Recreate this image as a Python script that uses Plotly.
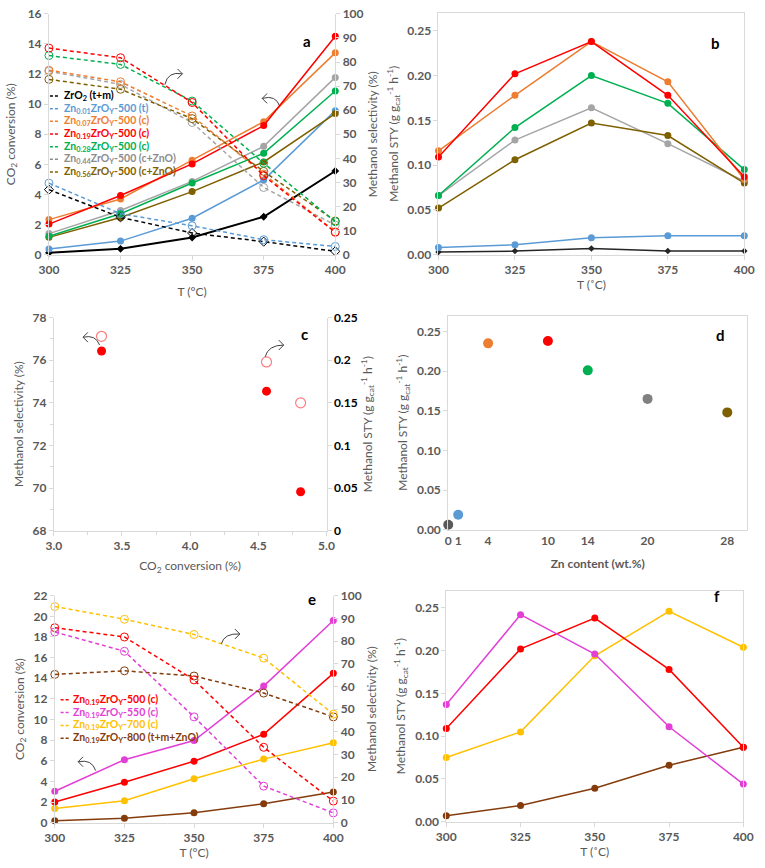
import plotly.graph_objects as go

W, H = 765, 868

# ---------------- data ----------------
T = [300, 325, 350, 375, 400]

# panel a: CO2 conversion (%)
conv_zro2 = [0.12, 0.39, 1.14, 2.52, 5.56]
conv_zn001 = [0.38, 0.90, 2.42, 4.96, 9.57]
conv_zn007 = [2.33, 3.70, 6.28, 8.84, 13.41]
conv_zn019 = [2.03, 3.93, 6.03, 8.58, 14.52]
conv_zn028 = [1.22, 2.72, 4.76, 6.74, 10.88]
conv_zn044 = [1.40, 2.94, 4.87, 7.20, 11.78]
conv_zn056 = [1.15, 2.47, 4.19, 6.16, 9.38]
# panel a: methanol selectivity (%)
sel_zro2 = [27.0, 15.5, 9.0, 5.4, 1.4]
sel_zn001 = [29.7, 17.0, 12.0, 6.2, 3.4]
sel_zn007 = [76.6, 71.8, 57.6, 33.5, 9.5]
sel_zn019 = [85.8, 81.8, 63.2, 32.8, 9.3]
sel_zn028 = [82.7, 79.0, 63.8, 38.0, 13.7]
sel_zn044 = [76.2, 70.7, 54.9, 27.9, 12.3]
sel_zn056 = [72.8, 68.7, 56.5, 34.6, 14.0]

# panel b: methanol STY
sty_zro2 = [0.003, 0.004, 0.007, 0.004, 0.004]
sty_zn001 = [0.008, 0.011, 0.019, 0.021, 0.021]
sty_zn007 = [0.116, 0.178, 0.238, 0.193, 0.084]
sty_zn019 = [0.109, 0.202, 0.238, 0.178, 0.087]
sty_zn028 = [0.066, 0.142, 0.200, 0.169, 0.095]
sty_zn044 = [0.066, 0.128, 0.164, 0.124, 0.082]
sty_zn056 = [0.052, 0.106, 0.147, 0.133, 0.080]

# panel c
c_conv = [3.35, 4.56, 4.81]
c_sel = [76.43, 74.55, 69.83]
c_sty = [0.228, 0.198, 0.150]

# panel d
zn_content = [0, 1, 4, 10, 14, 20, 28]
d_sty = [0.0065, 0.019, 0.235, 0.238, 0.201, 0.165, 0.148]
d_ticks = [0, 1, 4, 10, 14, 20, 28]
d_ticktext = ["0", "1", "4", "10", "14", "20", "28"]

# panel e
conv_500 = [2.00, 3.92, 5.96, 8.57, 14.47]
conv_550 = [3.05, 6.10, 7.96, 13.24, 19.60]
conv_700 = [1.38, 2.12, 4.25, 6.16, 7.74]
conv_800 = [0.18, 0.43, 0.96, 1.83, 2.97]
sel_500 = [85.9, 81.8, 62.9, 33.2, 9.5]
sel_550 = [84.0, 75.5, 46.6, 16.1, 4.3]
sel_700 = [95.2, 89.6, 82.9, 72.5, 47.8]
sel_800 = [65.3, 66.9, 64.6, 57.1, 46.6]

# panel f
sty_500 = [0.109, 0.202, 0.238, 0.178, 0.087]
sty_550 = [0.137, 0.242, 0.196, 0.111, 0.044]
sty_700 = [0.075, 0.105, 0.194, 0.246, 0.204]
sty_800 = [0.007, 0.019, 0.039, 0.066, 0.087]

# ---------------- style ----------------
C_BLACK = '#000000'
C_BLUE = '#5B9BD5'
C_ORANGE = '#ED7D31'
C_RED = '#FF0000'
C_GREEN = '#00B050'
C_GREY = '#A5A5A5'
C_OLIVE = '#7F6000'
C_MAG = '#E23FD6'
C_YEL = '#FFC000'
C_BROWN = '#843C0C'
d_colors = ['#595959', C_BLUE, C_ORANGE, C_RED, C_GREEN, '#808080', C_OLIVE]

FONT = 'Lato'
LEG_FONT = 'Liberation Sans Narrow, Lato'
TXT = '#595959'
AX = '#D9D9D9'
DASH = '4px,3px'


def px(x):
    return x / W


def py(y):
    return 1 - y / H


fig = go.Figure()


def solid(x, y, col, xa, ya, sym='circle', size=7, lw=1.5):
    fig.add_trace(go.Scatter(x=x, y=y, xaxis=xa, yaxis=ya, mode='lines+markers',
                             line=dict(color=col, width=lw),
                             marker=dict(symbol=sym, size=size, color=col),
                             cliponaxis=False, showlegend=False))


def dashed(x, y, col, xa, ya, sym='circle-open', size=8):
    fig.add_trace(go.Scatter(x=x, y=y, xaxis=xa, yaxis=ya, mode='lines+markers',
                             line=dict(color=col, width=1.5, dash=DASH),
                             marker=dict(symbol=sym, size=size, color=col, line=dict(width=1, color=col)),
                             cliponaxis=False, showlegend=False))


# panel a
a_series = [
    (conv_zro2, sel_zro2, C_BLACK, 'diamond', 'diamond-open', 6),
    (conv_zn001, sel_zn001, C_BLUE, 'circle', 'circle-open', 7),
    (conv_zn044, sel_zn044, C_GREY, 'circle', 'circle-open', 7),
    (conv_zn056, sel_zn056, C_OLIVE, 'circle', 'circle-open', 7),
    (conv_zn028, sel_zn028, C_GREEN, 'circle', 'circle-open', 7),
    (conv_zn007, sel_zn007, C_ORANGE, 'circle', 'circle-open', 7),
    (conv_zn019, sel_zn019, C_RED, 'circle', 'circle-open', 7),
]
for cv, sl, col, s1, s2, sz in a_series:
    solid(T, cv, col, 'x', 'y', sym=s1, size=sz, lw=2 if col == C_BLACK else 1.5)
for cv, sl, col, s1, s2, sz in a_series:
    dashed(T, sl, col, 'x', 'y2', sym=s2, size=sz + 1)

# panel b
b_series = [(sty_zro2, '#262626', 'diamond', 5), (sty_zn001, C_BLUE, 'circle', 7),
            (sty_zn044, C_GREY, 'circle', 7), (sty_zn056, C_OLIVE, 'circle', 7),
            (sty_zn028, C_GREEN, 'circle', 7), (sty_zn007, C_ORANGE, 'circle', 7),
            (sty_zn019, C_RED, 'circle', 7)]
for yv, col, sym, sz in b_series:
    solid(T, yv, col, 'x2', 'y3', sym=sym, size=sz)

# panel c
fig.add_trace(go.Scatter(x=c_conv, y=c_sel, xaxis='x3', yaxis='y4', mode='markers',
                         marker=dict(symbol='circle', size=9, color=C_RED),
                         cliponaxis=False, showlegend=False))
fig.add_trace(go.Scatter(x=c_conv, y=c_sty, xaxis='x3', yaxis='y5', mode='markers',
                         marker=dict(symbol='circle-open', size=10, color='#FF7C80', line=dict(width=1.2)),
                         cliponaxis=False, showlegend=False))

# panel d
fig.add_trace(go.Scatter(x=zn_content, y=d_sty, xaxis='x4', yaxis='y6', mode='markers',
                         marker=dict(symbol='circle', size=10, color=d_colors),
                         cliponaxis=False, showlegend=False))

# panel e
e_series = [(conv_800, sel_800, C_BROWN), (conv_700, sel_700, C_YEL),
            (conv_500, sel_500, C_RED), (conv_550, sel_550, C_MAG)]
for cv, sl, col in e_series:
    solid(T, cv, col, 'x5', 'y7')
for cv, sl, col in e_series:
    dashed(T, sl, col, 'x5', 'y8')

# panel f
for yv, col in [(sty_800, C_BROWN), (sty_700, C_YEL), (sty_500, C_RED), (sty_550, C_MAG)]:
    solid(T, yv, col, 'x6', 'y9')

# ---------------- axes ----------------
tickfont = dict(family=FONT, size=12, color=TXT, weight='bold')
titlefont = dict(family=FONT, size=12, color=TXT)


def xax(dom, anchor, rng, title, standoff=4, **kw):
    d = dict(domain=[px(dom[0]), px(dom[1])], anchor=anchor, range=rng,
             showgrid=False, zeroline=False, showline=True, linecolor=AX, linewidth=1,
             ticks='outside', ticklen=4, tickcolor=AX, tickfont=tickfont,
             title=dict(text=title, font=titlefont, standoff=standoff))
    d.update(kw)
    return d


def yax(dom, anchor, rng, title, standoff=6, **kw):
    d = dict(domain=[py(dom[1]), py(dom[0])], anchor=anchor, range=rng,
             showgrid=False, zeroline=False, showline=True, linecolor=AX, linewidth=1,
             ticks='outside', ticklen=4, tickcolor=AX, tickfont=tickfont,
             title=dict(text=title, font=titlefont, standoff=standoff))
    d.update(kw)
    return d


STY_TITLE = 'Methanol STY (g g<sub>cat</sub><sup>-1</sup> h<sup>-1</sup>)'
CONV_TITLE = 'CO<sub>2</sub> conversion (%)'
SEL_TITLE = 'Methanol selectivity (%)'
Tx = [300, 325, 350, 375, 400]

ax = {}
# a
ax['xaxis'] = xax([40, 334], 'y', [300, 400], 'T (°C)', standoff=11, tickvals=Tx)
ax['yaxis'] = yax([6, 251], 'x', [0, 16], CONV_TITLE, standoff=9, dtick=2)
ax['yaxis2'] = yax([6, 251], 'x', [0, 100], SEL_TITLE, dtick=10, overlaying='y', side='right')
# b
ax['xaxis2'] = xax([440, 754], 'y3', [300, 400], 'T (˚C)', tickvals=Tx, mirror=True)
ax['yaxis3'] = yax([5, 251], 'x2', [0, 0.27], STY_TITLE, tickvals=[0, 0.05, 0.1, 0.15, 0.2, 0.25],
                   tickformat='.2f', mirror=True)
# c
ax['xaxis3'] = xax([45, 325], 'y4', [3.0, 5.0], CONV_TITLE, standoff=9, dtick=0.5, tickformat='.1f',
                   minor=dict(ticks='outside', ticklen=3, tickcolor=AX, dtick=0.25))
ax['yaxis4'] = yax([315, 532], 'x3', [68, 78], SEL_TITLE, dtick=2,
                   minor=dict(ticks='outside', ticklen=3, tickcolor=AX, dtick=1))
ax['yaxis5'] = yax([315, 532], 'x3', [0, 0.25], STY_TITLE, dtick=0.05, overlaying='y4', side='right',
                   tickfont=dict(family=FONT, size=12, color='#000000', weight='bold'))
# d
ax['xaxis4'] = xax([450, 757], 'y6', [0, 30], '<b>Zn content (wt.%)</b>', standoff=12, tickvals=d_ticks,
                   ticktext=d_ticktext, mirror=True, ticks='')
ax['yaxis6'] = yax([313, 531], 'x4', [0, 0.27], STY_TITLE, tickvals=[0, 0.05, 0.1, 0.15, 0.2, 0.25],
                   tickformat='.2f', mirror=True)
# e
ax['xaxis5'] = xax([46, 332], 'y7', [300, 400], 'T (°C)', tickvals=Tx)
ax['yaxis7'] = yax([598, 829], 'x5', [0, 22], CONV_TITLE, dtick=2)
ax['yaxis8'] = yax([598, 829], 'x5', [0, 100], SEL_TITLE, dtick=10, overlaying='y7', side='right')
# f
ax['xaxis6'] = xax([448, 753], 'y9', [300, 400], 'T (˚C)', tickvals=Tx, mirror=True)
ax['yaxis9'] = yax([593, 828], 'x6', [0, 0.27], STY_TITLE, tickvals=[0, 0.05, 0.1, 0.15, 0.2, 0.25],
                   tickformat='.2f', mirror=True)

# ---------------- annotations / legends ----------------
annotations = []
shapes = []

for lab, (x, y) in {'a': (305, 22), 'b': (731, 24), 'c': (302, 332), 'd': (736, 333),
                    'e': (310, 613), 'f': (731, 610)}.items():
    annotations.append(dict(text='<b>%s</b>' % lab, x=px(x), y=py(y), xref='paper', yref='paper',
                            showarrow=False, font=dict(family=FONT, size=15, color='#000000')))

legend_a = [
    ('ZrO<sub>2</sub> (t+m)', C_BLACK),
    ('Zn<sub>0.01</sub>ZrO<sub>Y</sub>-500 (t)', C_BLUE),
    ('Zn<sub>0.07</sub>ZrO<sub>Y</sub>-500 (c)', C_ORANGE),
    ('Zn<sub>0.19</sub>ZrO<sub>Y</sub>-500 (c)', C_RED),
    ('Zn<sub>0.28</sub>ZrO<sub>Y</sub>-500 (c)', C_GREEN),
    ('Zn<sub>0.44</sub>ZrO<sub>Y</sub>-500 (c+ZnO)', '#8C8C8C'),
    ('Zn<sub>0.56</sub>ZrO<sub>Y</sub>-500 (c+ZnO)', C_OLIVE),
]
legend_e = [
    ('Zn<sub>0.19</sub>ZrO<sub>Y</sub>-500 (c)', C_RED),
    ('Zn<sub>0.19</sub>ZrO<sub>Y</sub>-550 (c)', C_MAG),
    ('Zn<sub>0.19</sub>ZrO<sub>Y</sub>-700 (c)', C_YEL),
    ('Zn<sub>0.19</sub>ZrO<sub>Y</sub>-800 (t+m+ZnO)', C_BROWN),
]


def add_legend(items, x0, x1, xt, y0, dy):
    for i, (txt, col) in enumerate(items):
        y = y0 + i * dy
        shapes.append(dict(type='line', xref='paper', yref='paper', x0=px(x0), x1=px(x1),
                           y0=py(y), y1=py(y), line=dict(color=col, width=1.5, dash='3px,2px')))
        annotations.append(dict(text='<b>%s</b>' % txt, x=px(xt), y=py(y), xref='paper', yref='paper',
                                xanchor='left', yanchor='middle', showarrow=False,
                                font=dict(family=LEG_FONT, size=10.5, color=col)))


add_legend(legend_a, 41, 51, 53, 89.5, 12.9)
add_legend(legend_e, 52, 61, 63, 704, 13)


def arrow(p0, c, p1, head):
    path = 'M %f,%f Q %f,%f %f,%f' % (px(p0[0]), py(p0[1]), px(c[0]), py(c[1]), px(p1[0]), py(p1[1]))
    shapes.append(dict(type='path', path=path, xref='paper', yref='paper',
                       line=dict(color='#404040', width=1)))
    hp = 'M %f,%f L %f,%f L %f,%f' % (px(head[0][0]), py(head[0][1]), px(head[1][0]), py(head[1][1]),
                                     px(head[2][0]), py(head[2][1]))
    shapes.append(dict(type='path', path=hp, xref='paper', yref='paper',
                       line=dict(color='#404040', width=1)))


# a: arrows
arrow((159, 78), (162, 64), (177, 67), [(172, 62), (177, 67), (172, 72)])
arrow((277, 100), (273, 88), (259, 92), [(264, 87), (259, 92), (264, 97)])
# c: arrows
arrow((92, 343), (88, 332), (75, 335), [(80, 330), (75, 335), (80, 340)])
arrow((262, 355), (265, 343), (281, 343), [(276, 338), (281, 343), (276, 348)])
# e: arrows
arrow((217, 647), (220, 636), (236, 637), [(231, 632), (236, 637), (231, 642)])
arrow((88, 776), (84, 764), (70, 767), [(75, 762), (70, 767), (75, 772)])

fig.update_layout(width=W, height=H, margin=dict(l=0, r=0, t=0, b=0),
                  paper_bgcolor='white', plot_bgcolor='white',
                  font=dict(family=FONT, color=TXT),
                  annotations=annotations, shapes=shapes, showlegend=False, **ax)

fig.write_html('out.html')
